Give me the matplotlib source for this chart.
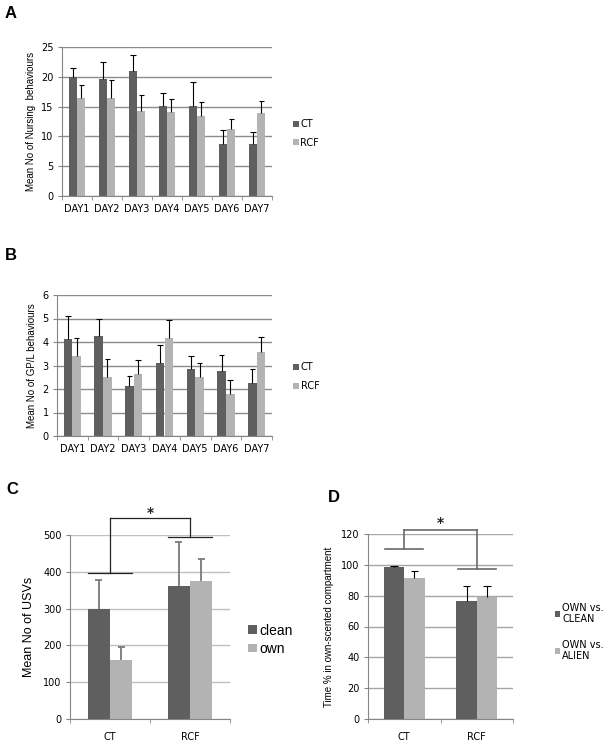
import matplotlib
matplotlib.use("Agg")
import matplotlib.pyplot as plt
import numpy as np

# ---------------- data ----------------
days = ["DAY1", "DAY2", "DAY3", "DAY4", "DAY5", "DAY6", "DAY7"]
groups_ab = ["CT", "RCF"]

nursing_ct = [19.9, 19.7, 21.0, 15.1, 15.1, 8.8, 8.8]
nursing_ct_err = [1.5, 2.8, 2.7, 2.1, 4.0, 2.2, 2.0]
nursing_rcf = [16.4, 16.5, 14.2, 14.1, 13.5, 11.2, 13.9]
nursing_rcf_err = [2.2, 3.0, 2.7, 2.2, 2.3, 1.8, 2.1]

gpl_ct = [4.11, 4.24, 2.11, 3.11, 2.87, 2.75, 2.26]
gpl_ct_err = [1.01, 0.74, 0.46, 0.78, 0.55, 0.70, 0.59]
gpl_rcf = [3.40, 2.50, 2.62, 4.17, 2.52, 1.77, 3.59]
gpl_rcf_err = [0.76, 0.78, 0.63, 0.75, 0.60, 0.63, 0.64]

cats_cd = ["CT", "RCF"]
usv_series = ["clean", "own"]
usv_clean = [299, 362]
usv_clean_err = [79, 118]
usv_own = [161, 376]
usv_own_err = [34, 60]
usv_sig_levels = [397, 495]
usv_sig_top = 546

pref_series = ["OWN vs.\nCLEAN", "OWN vs.\nALIEN"]
pref_clean = [98.4, 76.5]
pref_clean_err = [1.1, 9.6]
pref_alien = [91.5, 79.1]
pref_alien_err = [4.5, 7.4]
pref_sig_levels = [110, 97]
pref_sig_top = 122.6

DARK = "#5f5f5f"
LIGHT = "#b3b3b3"

W, H = 603, 743
fig = plt.figure(figsize=(W / 100, H / 100), dpi=100)


def add_ax(l, r, t, b):
    return fig.add_axes([l / W, (H - b) / H, (r - l) / W, (b - t) / H])


def style_ax(ax, grid_color, ymax, ystep, ncat, tick_fs):
    ax.set_xlim(-0.5, ncat - 0.5)
    ax.set_ylim(0, ymax)
    ax.set_yticks(np.arange(0, ymax + ystep / 2, ystep))
    for s in ["top", "right"]:
        ax.spines[s].set_visible(False)
    ax.spines["left"].set_color("#868686")
    ax.spines["bottom"].set_color("#868686")
    ax.spines["left"].set_linewidth(0.8)
    ax.spines["bottom"].set_linewidth(0.8)
    ax.yaxis.grid(True, color=grid_color, linewidth=1.0)
    ax.set_axisbelow(True)
    ax.set_xticks(np.arange(ncat))
    ax.set_xticks(np.arange(-0.5, ncat, 1.0), minor=True)
    ax.tick_params(axis="x", which="major", length=0, labelsize=tick_fs, pad=6)
    ax.tick_params(axis="x", which="minor", length=3, color="#868686", direction="out")
    ax.tick_params(axis="y", length=3, color="#868686", labelsize=tick_fs, pad=3)


def up_err(ax, x, v, e, col, lw, capw):
    x = np.asarray(x, float)
    v = np.asarray(v, float)
    e = np.asarray(e, float)
    ax.vlines(x, v, v + e, colors=col, linewidth=lw, zorder=3)
    ax.hlines(v + e, x - capw, x + capw, colors=col, linewidth=lw, zorder=3)


def grouped(ax, v1, e1, v2, e2, labels, w, ecol, elw, capw):
    x = np.arange(len(v1))
    b1 = ax.bar(x - w / 2, v1, w, color=DARK, label=labels[0], zorder=2)
    b2 = ax.bar(x + w / 2, v2, w, color=LIGHT, label=labels[1], zorder=2)
    up_err(ax, x - w / 2, v1, e1, ecol, elw, capw)
    up_err(ax, x + w / 2, v2, e2, ecol, elw, capw)
    return b1, b2


def sig(ax, levels, top, half, color, lw, star_y):
    for i, lv in enumerate(levels):
        ax.plot([i - half, i + half], [lv, lv], color=color, lw=lw, clip_on=False, zorder=4)
        ax.plot([i, i], [lv, top], color=color, lw=lw, clip_on=False, zorder=4)
    ax.plot([0, 1], [top, top], color=color, lw=lw, clip_on=False, zorder=4)
    ax.text(0.5, star_y, "*", ha="center", va="center", fontsize=10, color="#222222",
            fontweight="bold")


# ---------------- Panel A ----------------
axA = add_ax(62, 272, 47, 196)
style_ax(axA, "#8c8c8c", 25, 5, 7, 7)
grouped(axA, nursing_ct, nursing_ct_err, nursing_rcf, nursing_rcf_err,
        groups_ab, 0.28, "black", 0.8, 0.09)
axA.set_xticklabels(days)
axA.set_ylabel("Mean No of Nursing  behaviours", fontsize=7, family="Liberation Sans", labelpad=4)
axA.legend(loc="center left", bbox_to_anchor=(1.08, 0.42), frameon=False, fontsize=7,
           handlelength=0.6, handleheight=0.6, handletextpad=0.2, labelspacing=0.9,
           borderaxespad=0)
fig.text(5 / W, 1 - 13 / H, "A", fontsize=12, fontweight="bold", family="Liberation Sans",
         va="center")

# ---------------- Panel B ----------------
axB = add_ax(57, 272, 295, 436)
style_ax(axB, "#8c8c8c", 6, 1, 7, 7)
grouped(axB, gpl_ct, gpl_ct_err, gpl_rcf, gpl_rcf_err,
        groups_ab, 0.28, "black", 0.8, 0.09)
axB.set_xticklabels(days)
axB.set_ylabel("Mean No of GP/L behaviours", fontsize=7, family="Liberation Sans", labelpad=4)
axB.legend(loc="center left", bbox_to_anchor=(1.08, 0.42), frameon=False, fontsize=7,
           handlelength=0.6, handleheight=0.6, handletextpad=0.2, labelspacing=0.9,
           borderaxespad=0)
fig.text(5 / W, 1 - 256 / H, "B", fontsize=12, fontweight="bold", family="Liberation Sans",
         va="center")

# ---------------- Panel C ----------------
axC = add_ax(70, 230, 535, 719)
style_ax(axC, "#c0c0c0", 500, 100, 2, 7)
grouped(axC, usv_clean, usv_clean_err, usv_own, usv_own_err,
        usv_series, 0.28, "#7a7a7a", 1.3, 0.045)
axC.set_xticklabels(cats_cd)
axC.tick_params(axis="x", which="major", pad=9)
axC.set_ylabel("Mean No of USVs", fontsize=9, family="Liberation Sans", labelpad=6)
sig(axC, usv_sig_levels, usv_sig_top, 0.27, "#222222", 0.9, 560)
axC.legend(loc="center left", bbox_to_anchor=(1.08, 0.43), frameon=False,
           handlelength=0.6, handleheight=0.6, handletextpad=0.2, labelspacing=0.3,
           borderaxespad=0, prop={"family": "Liberation Sans", "size": 10})
fig.text(6 / W, 1 - 489 / H, "C", fontsize=12, fontweight="bold", family="Liberation Sans",
         va="center")

# ---------------- Panel D ----------------
axD = add_ax(368, 513, 534, 719)
style_ax(axD, "#a6a6a6", 120, 20, 2, 7)
grouped(axD, pref_clean, pref_clean_err, pref_alien, pref_alien_err,
        pref_series, 0.28, "black", 0.8, 0.05)
axD.set_xticklabels(cats_cd)
axD.tick_params(axis="x", which="major", pad=9)
axD.set_ylabel("Time % in own-scented compartment", fontsize=7, family="Liberation Sans",
               labelpad=5)
sig(axD, pref_sig_levels, pref_sig_top, 0.26, "#6a6a6a", 1.2, 127)
axD.legend(loc="center left", bbox_to_anchor=(1.26, 0.47), frameon=False, fontsize=7,
           handlelength=0.6, handleheight=0.6, handletextpad=0.2, labelspacing=1.6,
           borderaxespad=0)
fig.text(328 / W, 1 - 497 / H, "D", fontsize=12, fontweight="bold", family="Liberation Sans",
         va="center")

fig.savefig("out.png", dpi=100)
